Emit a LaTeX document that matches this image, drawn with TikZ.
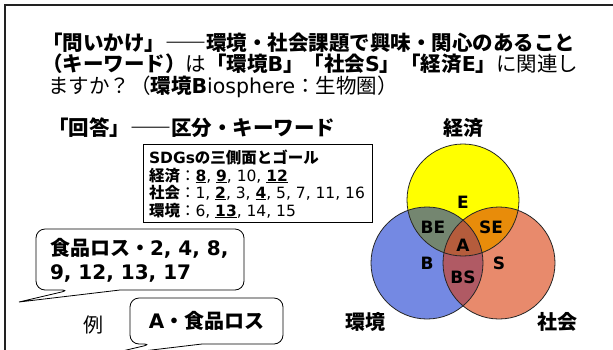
\documentclass[tikz,border=0pt]{standalone}
\usepackage{fontspec}
\setmainfont{Noto Sans CJK JP}
\newfontfamily\enfont{DejaVu Sans}
\newcommand\EN[1]{{\enfont #1}}
\newcommand\ubf[1]{\underline{\textbf{#1}}}
\definecolor{vyel}{HTML}{FFFF00}
\definecolor{vblu}{HTML}{7489E3}
\definecolor{vorg}{HTML}{E88A6C}
\definecolor{vbe}{HTML}{748670}
\definecolor{vse}{HTML}{E88C0A}
\definecolor{vbs}{HTML}{B05A64}
\definecolor{va}{HTML}{B55C3C}
\definecolor{frm}{HTML}{222222}
\tikzset{
  txt/.style={inner sep=0pt, outer sep=0pt},
  titletxt/.style={txt, anchor=base west, font=\fontsize{20.5}{24}\selectfont},
  sdgtxt/.style={txt, anchor=base west, font=\fontsize{15.5}{18}\selectfont},
  calltxt/.style={txt, anchor=base west, font=\fontsize{20}{24}\selectfont\bfseries},
  vennlab/.style={txt, font=\fontsize{20}{24}\selectfont\bfseries},
  vennlet/.style={txt, font=\fontsize{17}{20}\selectfont\enfont\bfseries},
  calloutline/.style={draw=black, line width=0.8pt, fill=white},
  circline/.style={draw=black!85, line width=0.8pt},
}
\begin{document}
\begin{tikzpicture}[x=1pt,y=-1pt]
\useasboundingbox (0,0) rectangle (613,349);
\clip (0,0) rectangle (613,349);
\fill[white] (0,0) rectangle (613,349);
% frame
\coordinate (fbl) at (5,352);
\coordinate (ftl) at (5,5);
\coordinate (ftr) at (616,5);
\draw[frm, line width=2pt] (fbl) -- (ftl) -- (ftr);

% title
\node[titletxt] (t1) at (42,50) {\bfseries 「問いかけ」――環境・社会課題で興味・関心のあること};
\node[titletxt] (t2) at (42,71) {{\bfseries （キーワード）}は{\bfseries 「環境\EN{B}」「社会\EN{S}」「経済\EN{E}」}に関連し};
\node[titletxt] (t3) at (48,93) {ますか？（{\bfseries 環境\EN{B}}\EN{iosphere}：生物圏）};

\node[titletxt] (ans) at (48,135) {\bfseries 「回答」――区分・キーワード};

% SDGs box
\node[draw=black, line width=0.8pt, minimum width=229pt, minimum height=78pt, anchor=north west, inner sep=0pt] (sdg) at (143,144) {};
\node[sdgtxt] (s1) at (149,163) {\textbf{\EN{SDGs}の三側面とゴール}};
\node[sdgtxt] (s2) at (149,181) {\textbf{経済}：\EN{\ubf{8}, \ubf{9}, 10, \ubf{12}}};
\node[sdgtxt] (s3) at (149,198) {\textbf{社会}：\EN{1, \ubf{2}, 3, \ubf{4}, 5, 7, 11, 16}};
\node[sdgtxt] (s4) at (149,216) {\textbf{環境}：\EN{6, \ubf{13}, 14, 15}};

% callout 1
\coordinate (c1a) at (120,290);
\coordinate (c1b) at (244,290);
\coordinate (c1c) at (244,229);
\coordinate (c1d) at (36,229);
\coordinate (c1e) at (36,290);
\coordinate (c1f) at (70,290);
\coordinate (c1tip) at (19,302);
\path[calloutline] (c1a) [rounded corners=9pt] -- (c1b) -- (c1c) -- (c1d) -- (c1e) -- (c1f) [sharp corners] -- (c1tip) -- cycle;
\node[calltxt] (k1) at (50,255.5) {食品ロス・\EN{2, 4, 8,}};
\node[calltxt] (k2) at (50,279.5) {\EN{9, 12, 13, 17}};

% callout 2
\coordinate (c2a) at (202,344);
\coordinate (c2b) at (283,344);
\coordinate (c2c) at (283,298);
\coordinate (c2d) at (130,298);
\coordinate (c2e) at (130,344);
\coordinate (c2f) at (152,344);
\coordinate (c2tip) at (101,356);
\path[calloutline] (c2a) [rounded corners=9pt] -- (c2b) -- (c2c) -- (c2d) -- (c2e) -- (c2f) [sharp corners] -- (c2tip) -- cycle;
\node[txt, font=\fontsize{20}{24}\selectfont\bfseries] (ex) at (206.5,321) {\EN{A}・食品ロス};
\node[txt, font=\fontsize{20}{24}\selectfont] (rei) at (93,325) {例};

% Venn
\coordinate (cE) at (463,200);
\coordinate (cB) at (427,263);
\coordinate (cS) at (499,263);
\fill[vblu] (cB) circle[radius=56pt];
\fill[vorg] (cS) circle[radius=56pt];
\fill[vyel] (cE) circle[radius=56pt];
\begin{scope}
  \clip (cB) circle[radius=56pt];
  \fill[vbe] (cE) circle[radius=56pt];
\end{scope}
\begin{scope}
  \clip (cS) circle[radius=56pt];
  \fill[vse] (cE) circle[radius=56pt];
\end{scope}
\begin{scope}
  \clip (cB) circle[radius=56pt];
  \fill[vbs] (cS) circle[radius=56pt];
\end{scope}
\begin{scope}
  \clip (cB) circle[radius=56pt];
  \clip (cS) circle[radius=56pt];
  \fill[va] (cE) circle[radius=56pt];
\end{scope}
\draw[circline] (cB) circle[radius=56pt];
\draw[circline] (cS) circle[radius=56pt];
\draw[circline] (cE) circle[radius=56pt];

\node[vennlet] (lE) at (463,202) {E};
\node[vennlet] (lBE) at (433,227) {BE};
\node[vennlet] (lSE) at (491,227) {SE};
\node[vennlet] (lA) at (463,245) {A};
\node[vennlet] (lB) at (427,263) {B};
\node[vennlet] (lS) at (499,263) {S};
\node[vennlet] (lBS) at (463,277) {BS};

\node[vennlab] (keizai) at (463,128) {経済};
\node[vennlab] (kankyo) at (365,322) {環境};
\node[vennlab] (shakai) at (557,322) {社会};
\end{tikzpicture}
\end{document}
